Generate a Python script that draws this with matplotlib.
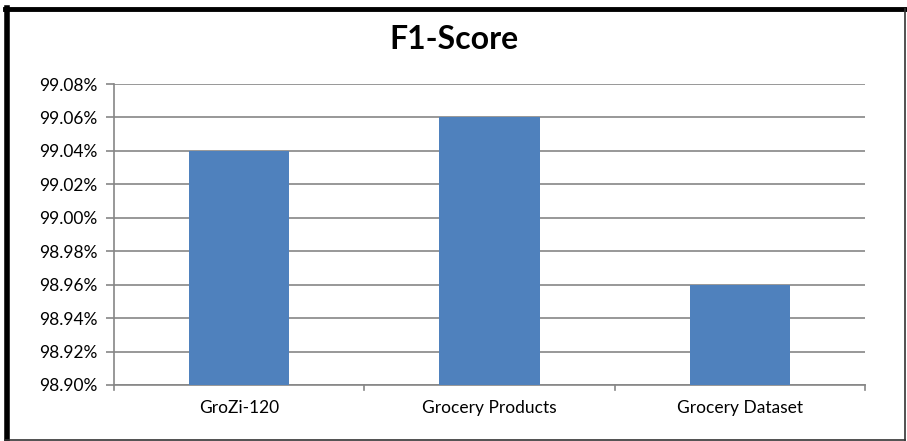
import numpy as np, matplotlib
matplotlib.use('Agg'); import matplotlib.pyplot as plt
from matplotlib.lines import Line2D
from matplotlib.ticker import FuncFormatter, MultipleLocator

datasets = ['GroZi-120', 'Grocery Products', 'Grocery Dataset']
f1_score = [99.04, 99.06, 98.96]

plt.rcParams['font.family'] = ['Lato', 'DejaVu Sans']
fig = plt.figure(figsize=(9.07, 4.41), dpi=100)
ax = fig.add_axes([0.1257, 0.127, 0.828, 0.6825])

x = np.arange(len(datasets))
ax.bar(x, f1_score, 0.4, color='#4F81BD', zorder=3)
ax.set_xlim(-0.5, len(datasets) - 0.5)
ax.set_ylim(98.90, 99.08)
ax.yaxis.set_major_locator(MultipleLocator(0.02))
ax.yaxis.set_major_formatter(FuncFormatter(lambda v, p: f'{v:.2f}%'))
ax.set_xticks(x)
ax.set_xticklabels(datasets, fontsize=12.5)
ax.tick_params(axis='x', length=0, pad=11)
ax.tick_params(axis='y', labelsize=12.5, length=6, color='#868686', width=1.2, pad=6)
# category separators below the x axis
for b in np.arange(-0.5, len(datasets), 1.0):
    ax.plot([b, b], [-0.018, 0], transform=ax.get_xaxis_transform(),
            color='#868686', lw=1.2, clip_on=False)
ax.grid(axis='y', color='#868686', lw=1.2, zorder=0)
for s in ['top', 'right']:
    ax.spines[s].set_visible(False)
for s in ['left', 'bottom']:
    ax.spines[s].set_color('#868686'); ax.spines[s].set_linewidth(1.2)

fig.text(0.5, 0.91, 'F1-Score', ha='center', va='center', fontsize=23, fontweight='bold')

# outer frame: heavy top/left, thin right/bottom
fig.add_artist(Line2D([0.0055, 0.998], [0.979, 0.979], color='black', lw=3.5, transform=fig.transFigure))
fig.add_artist(Line2D([0.0072, 0.0072], [0.002, 0.981], color='black', lw=4, transform=fig.transFigure))
fig.add_artist(Line2D([0.998, 0.998], [0.002, 0.979], color='#333333', lw=1.2, transform=fig.transFigure))
fig.add_artist(Line2D([0.0055, 0.998], [0.003, 0.003], color='#333333', lw=1.2, transform=fig.transFigure))

fig.savefig('out.png', dpi=100)
